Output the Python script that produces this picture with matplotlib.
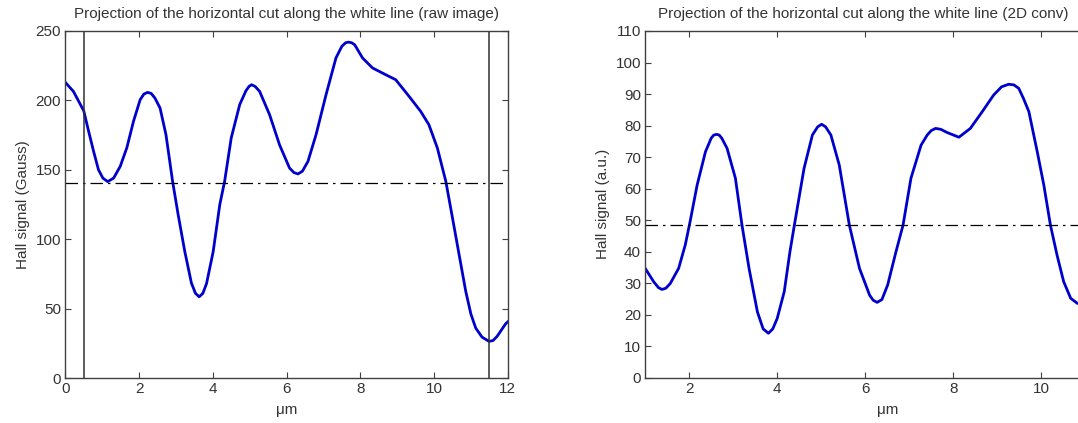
import matplotlib
matplotlib.use("Agg")
from matplotlib import pyplot as plt

plt.rcParams['font.family'] = ['Liberation Sans', 'DejaVu Sans']

# raw image profile
raw_x = [0.0, 0.22, 0.5, 0.63, 0.77, 0.9, 1.02, 1.15, 1.31, 1.49, 1.67, 1.85,
         2.03, 2.13, 2.23, 2.33, 2.43, 2.57, 2.73, 2.91, 3.06, 3.24, 3.42,
         3.53, 3.63, 3.73, 3.83, 4.01, 4.19, 4.32, 4.5, 4.73, 4.9, 4.98, 5.05,
         5.15, 5.27, 5.54, 5.81, 6.08, 6.2, 6.31, 6.43, 6.58, 6.8, 7.07, 7.34,
         7.5, 7.6, 7.68, 7.77, 7.85, 8.06, 8.33, 8.69, 8.96, 9.32, 9.64, 9.86,
         10.09, 10.32, 10.5, 10.68, 10.86, 11.0, 11.13, 11.3, 11.49, 11.6,
         11.71, 11.94, 12.0]
raw_y = [213, 206.5, 192.5, 178, 163, 150, 144, 141.5, 144, 152.5, 166, 185,
         200.5, 204.5, 205.8, 205, 201.7, 194.5, 175.3, 141.6, 117.7, 91.2,
         68.4, 61, 58.5, 61, 68, 91, 125, 141.6, 173, 197, 207, 210, 211.3,
         210, 206.5, 189.7, 168, 151.3, 148, 147, 149, 156, 175.3, 204, 230.6,
         239, 241.5, 242, 241.5, 240, 230.6, 223.4, 218.5, 214.9, 203, 192,
         182.5, 165.7, 141.6, 115.3, 88.8, 62.4, 46, 36, 29.5, 26.4, 27, 30,
         39, 40.5]

# 2D convolution profile
conv_x = [1.0, 1.19, 1.3, 1.38, 1.47, 1.57, 1.76, 1.91, 2.02, 2.18, 2.37, 2.5,
          2.56, 2.62, 2.68, 2.74, 2.86, 3.05, 3.2, 3.36, 3.55, 3.68, 3.8, 3.9,
          4.0, 4.16, 4.29, 4.39, 4.61, 4.8, 4.92, 5.01, 5.1, 5.22, 5.41, 5.64,
          5.87, 6.1, 6.18, 6.27, 6.38, 6.51, 6.7, 6.86, 7.04, 7.27, 7.41, 7.5,
          7.6, 7.72, 7.86, 8.13, 8.39, 8.66, 8.92, 9.1, 9.26, 9.38, 9.49, 9.6,
          9.72, 9.91, 10.06, 10.21, 10.36, 10.51, 10.67, 10.82, 10.95]
conv_y = [34.7, 30.5, 28.6, 28, 28.4, 29.9, 34.7, 42.1, 49.5, 61.1, 71.7, 76,
          77, 77.2, 77, 76, 72.8, 63.3, 48.4, 34.7, 20.9, 15.5, 14.1, 15.5,
          18.8, 27.3, 40, 48.4, 66.4, 77, 79.6, 80.4, 79.6, 77, 67.5, 48.4,
          34.7, 26.2, 24.6, 23.9, 24.8, 29.4, 40, 48.4, 63.3, 73.8, 77, 78.4,
          79.1, 78.8, 77.8, 76.3, 79.1, 84.4, 89.7, 92.3, 93.1, 92.9, 91.8,
          88.5, 84.4, 71.7, 61.1, 48.4, 38.9, 30.5, 25.2, 23.6, 23.4]

raw_threshold = 140.5
conv_threshold = 48.5
raw_marks = [0.5, 11.5]

titles = ['Projection of the horizontal cut along the white line (raw image)',
          'Projection of the horizontal cut along the white line (2D conv)']
ylabels = ['Hall signal (Gauss)', 'Hall signal (a.u.)']

W, H = 1078, 423
fig = plt.figure(figsize=(W / 100, H / 100), dpi=100)
ax1 = fig.add_axes([65.3 / W, 45 / H, 442.5 / W, 347 / H])
ax2 = fig.add_axes([645.2 / W, 45.3 / H, 484 / W, 346.7 / H])

txt = '#333333'
fs = 11


def style(ax):
    for s in ax.spines.values():
        s.set_color('#404040')
        s.set_linewidth(1.0)
    ax.tick_params(direction='in', top=True, right=True, length=4,
                   colors='#404040', labelcolor=txt, labelsize=fs, width=0.8,
                   pad=3)


ax1.plot(raw_x, raw_y, color='#0000cc', lw=2, solid_joinstyle='round')
ax1.axhline(raw_threshold, color='black', lw=0.9, ls=(0, (10, 4, 2, 4)))
for xm in raw_marks:
    ax1.axvline(xm, color='#303030', lw=1.1)
ax1.set_xlim(0, 12)
ax1.set_ylim(0, 250)
ax1.set_xticks(range(0, 13, 2))
ax1.set_yticks(range(0, 251, 50))

ax2.plot(conv_x, conv_y, color='#0000cc', lw=2, solid_joinstyle='round')
ax2.axhline(conv_threshold, color='black', lw=0.9, ls=(0, (10, 4, 2, 4)))
ax2.set_xlim(1, 12)
ax2.set_ylim(0, 110)
ax2.set_xticks(range(2, 13, 2))
ax2.set_yticks(range(0, 111, 10))

for ax, yl in zip([ax1, ax2], ylabels):
    style(ax)
    ax.set_ylabel(yl, fontsize=fs, color=txt, labelpad=4)
    ax.set_xlabel('μm', fontsize=fs, color=txt, labelpad=5)

fig.text(286 / W, 1 - 14 / H, titles[0], fontsize=fs, color=txt,
         ha='center', va='center')
fig.text(863.5 / W, 1 - 14 / H, titles[1], fontsize=fs, color=txt,
         ha='center', va='center')

fig.savefig('out.png', dpi=100)
